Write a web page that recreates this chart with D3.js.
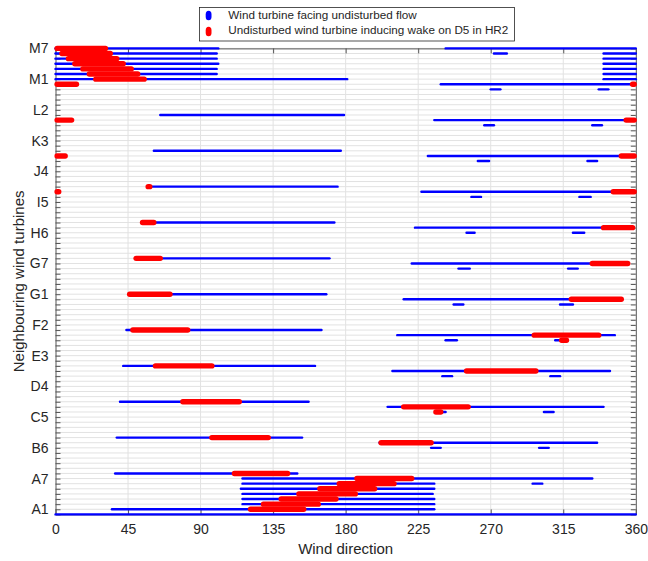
<!DOCTYPE html>
<html>
<head>
<meta charset="utf-8">
<script src="https://cdn.jsdelivr.net/npm/d3@7"></script>
<style>
  body { margin: 0; background: #fff; }
  svg { display: block; }
  text { font-family: "Liberation Sans", Arial, Helvetica, sans-serif; fill: #262626; }
</style>
</head>
<body>
<svg id="chart" width="648" height="561"></svg>
<script>
// Turbine rows, A1 at the bottom up to M7 at the top; row 0 is the reference span
const letters = "ABCDEFGHIJKLM".split("");
const turbines = letters.flatMap(l => d3.range(1, 8).map(n => l + n));
const yTickLabels = ["A1","A7","B6","C5","D4","E3","F2","G1","G7","H6","I5","J4","K3","L2","M1","M7"];
const xTickValues = [0, 45, 90, 135, 180, 225, 270, 315, 360];

// Wind-direction sectors [turbine, from°, to°] where the turbine faces undisturbed flow
const undisturbed = [
  ["base", 0, 360],
  ["A1", 35, 235], ["A2", 116, 235], ["A3", 116, 235], ["A4", 116, 234], ["A5", 115, 235],
  ["A6", 116, 235], ["A6", 296, 302], ["A7", 116, 333],
  ["B1", 37, 150], ["B6", 233, 239], ["B6", 300, 306], ["B7", 201, 336],
  ["C1", 38, 153], ["C6", 236, 242], ["C6", 303, 309], ["C7", 206, 340],
  ["D1", 40, 157], ["D6", 240, 246], ["D6", 307, 313], ["D7", 209, 344],
  ["E1", 42, 161], ["E6", 242, 249], ["E6", 310, 317], ["E7", 212, 347],
  ["F1", 44, 165], ["F6", 247, 253], ["F6", 313, 321], ["F7", 216, 351],
  ["G1", 46, 168], ["G6", 250, 257], ["G6", 318, 324], ["G7", 221, 355],
  ["H1", 50, 170], ["H6", 255, 260], ["H6", 321, 328], ["H7", 223, 358],
  ["I1", 54, 173], ["I6", 258, 264], ["I6", 325, 332], ["I7", 227, 359],
  ["J1", 58, 175], ["J6", 262, 269], ["J6", 330, 336], ["J7", 231, 359],
  ["K1", 61, 177], ["K6", 266, 272], ["K6", 333, 339], ["K7", 235, 359],
  ["L1", 65, 179], ["L6", 270, 276], ["L6", 337, 343], ["L7", 239, 359],
  ["M1", 0, 181], ["M1", 340, 360], ["M2", 0, 100], ["M2", 340, 360],
  ["M3", 0, 100], ["M3", 340, 360], ["M4", 0, 101], ["M4", 340, 360],
  ["M5", 0, 100], ["M5", 340, 360], ["M6", 0, 100], ["M6", 272, 280], ["M6", 340, 360],
  ["M7", 0, 101], ["M7", 242, 360]
];

// Sectors [turbine, from°, to°] where the undisturbed turbine induces wake on D5 in HR2
const wakeOnD5 = [
  ["A1", 121, 154], ["A2", 129, 163], ["A3", 140, 174], ["A4", 151, 186],
  ["A5", 164, 198], ["A6", 176, 210], ["A7", 187, 221],
  ["B1", 111, 144], ["B7", 202, 233],
  ["C1", 97, 132], ["C6", 236, 239], ["C7", 216, 256],
  ["D1", 79, 114], ["D7", 255, 298],
  ["E1", 62, 97], ["E6", 314, 317], ["E7", 297, 337],
  ["F1", 48, 82], ["F7", 320, 351],
  ["G1", 46, 71], ["G7", 333, 355],
  ["H1", 50, 65], ["H7", 340, 358],
  ["I1", 54, 61], ["I7", 1, 2], ["I7", 346, 359],
  ["J1", 57.5, 58.5], ["J7", 1, 6], ["J7", 351, 359],
  ["K7", 1, 10], ["K7", 354, 359],
  ["L7", 1, 13], ["L7", 358, 359],
  ["M1", 25, 55], ["M2", 21, 51], ["M3", 17, 47], ["M4", 12, 42],
  ["M5", 8, 38], ["M6", 4, 34], ["M7", 1, 31]
];

const legendItems = [
  { label: "Wind turbine facing undisturbed flow", color: "#0000ff" },
  { label: "Undisturbed wind turbine inducing wake on D5 in HR2", color: "#ff0000" }
];

const rowOf = name => name === "base" ? 0 : turbines.indexOf(name) + 1;

const svg = d3.select("#chart");
const plot = { left: 55.5, right: 635.8, top: 48.4, bottom: 514.4 };

const x = d3.scaleLinear().domain([0, 360]).range([plot.left, plot.right]);
const y = d3.scaleLinear().domain([0, turbines.length]).range([plot.bottom, plot.top]);
const rows = d3.range(0, turbines.length + 1);

// grid
const grid = svg.append("g").attr("stroke", "#e2e2e2").attr("stroke-width", 1);
grid.selectAll("line.h").data(rows).join("line")
  .attr("x1", plot.left).attr("x2", plot.right)
  .attr("y1", d => y(d)).attr("y2", d => y(d));
grid.selectAll("line.v").data(xTickValues.slice(1, -1)).join("line")
  .attr("y1", plot.top).attr("y2", plot.bottom)
  .attr("x1", d => x(d)).attr("x2", d => x(d));

// axes with inward ticks on all four sides
const labelFor = i => {
  const name = i === 0 ? "" : turbines[i - 1];
  return yTickLabels.includes(name) ? name : "";
};
const axisColor = "#555";
function styleAxis(g) {
  g.select(".domain").attr("stroke", axisColor);
  g.selectAll(".tick line").attr("stroke", axisColor);
  g.selectAll("text").style("font-size", "14px").attr("fill", "#262626");
}
svg.append("g").attr("transform", `translate(0,${plot.bottom})`)
  .call(d3.axisBottom(x).tickValues(xTickValues).tickSize(-5).tickPadding(10).tickSizeOuter(0))
  .call(styleAxis);
svg.append("g").attr("transform", `translate(0,${plot.top})`)
  .call(d3.axisTop(x).tickValues(xTickValues).tickSize(-5).tickFormat("").tickSizeOuter(0))
  .call(styleAxis);
svg.append("g").attr("transform", `translate(${plot.left},0)`)
  .call(d3.axisLeft(y).tickValues(rows).tickSize(-5).tickPadding(7).tickFormat(labelFor).tickSizeOuter(0))
  .call(styleAxis);
svg.append("g").attr("transform", `translate(${plot.right},0)`)
  .call(d3.axisRight(y).tickValues(rows).tickSize(-5).tickFormat("").tickSizeOuter(0))
  .call(styleAxis);

// sectors
function drawSegments(data, color, width) {
  svg.append("g").selectAll("line").data(data).join("line")
    .attr("x1", d => x(d[1])).attr("x2", d => x(d[2]))
    .attr("y1", d => y(rowOf(d[0]))).attr("y2", d => y(rowOf(d[0])))
    .attr("stroke", color).attr("stroke-width", width)
    .attr("stroke-linecap", "round");
}
drawSegments(undisturbed, legendItems[0].color, 2.4);
drawSegments(wakeOnD5, legendItems[1].color, 5.4);

// axis titles
svg.append("text").attr("x", (plot.left + plot.right) / 2).attr("y", 554)
  .attr("text-anchor", "middle").style("font-size", "15px").text("Wind direction");
svg.append("text").attr("transform", `translate(23.5,${(plot.top + plot.bottom) / 2}) rotate(-90)`)
  .attr("text-anchor", "middle").style("font-size", "15px").text("Neighbouring wind turbines");

// legend
const legend = svg.append("g");
legend.append("rect").attr("x", 199.5).attr("y", 7.5).attr("width", 315).attr("height", 33.5)
  .attr("fill", "#fff").attr("stroke", "#262626").attr("stroke-width", 0.8);
legendItems.forEach((item, i) => {
  const cy = 15.5 + i * 16;
  legend.append("rect").attr("x", 205.7).attr("y", cy - 4.7).attr("width", 5.8).attr("height", 9.4)
    .attr("rx", 2.9).attr("ry", 3.5).attr("fill", item.color);
  legend.append("text").attr("x", 228.3).attr("y", 19 + i * 15.3)
    .style("font-size", "11.7px").text(item.label);
});
</script>
</body>
</html>
